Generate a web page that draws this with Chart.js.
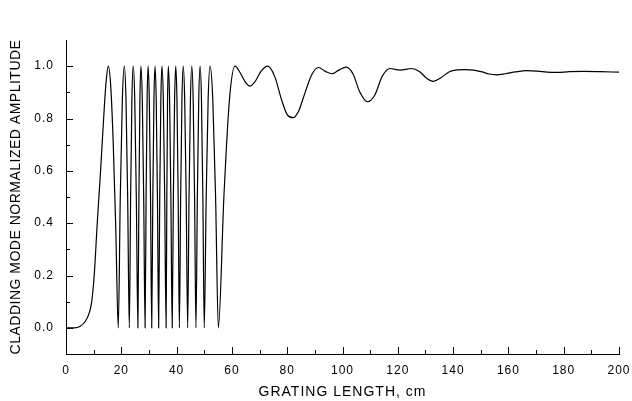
<!DOCTYPE html>
<html>
<head>
<meta charset="utf-8">
<script src="https://cdn.jsdelivr.net/npm/chart.js@4.4.1/dist/chart.umd.min.js"></script>
<style>
  html, body { margin: 0; padding: 0; background: #fff; }
  #wrap { width: 632px; height: 401px; }
</style>
</head>
<body>
<div id="wrap"><canvas id="c" width="632" height="401"></canvas></div>
<script>
// ---- data ----
const gratingLength = [
  0, 3, 5, 7, 8.5, 9.3, 10.2, 11.3, 12.5, 13.5, 14.5, 15.3, 16.2, 17.1, 18.0, 18.9,
  19.63, 20.37, 21.1, 21.7, 22.3, 22.9, 23.37, 23.83, 24.3, 24.87, 25.43, 26.0,
  26.37, 26.73, 27.1, 27.6, 28.1, 28.6, 28.97, 29.33, 29.7, 30.13, 30.57, 31.0,
  31.4, 31.8, 32.2, 32.63, 33.07, 33.5, 33.9, 34.3, 34.7, 35.2, 35.7, 36.2,
  36.47, 36.73, 37.0, 37.47, 37.93, 38.4, 38.83, 39.27, 39.7, 40.13, 40.57, 41.0,
  41.47, 41.93, 42.4, 42.93, 43.47, 44.0, 44.5, 45.0, 45.5, 46.0, 46.5, 47.0,
  47.5, 48.0, 48.5, 49.0, 49.5, 50.0, 50.7, 51.4, 52.1, 53.1, 54.1, 55.1,
  57.1, 59.1, 61.1,
  63.0, 64.8, 66.5, 68.3, 70.5, 73.0, 75.5, 78.0, 80.0, 82.1, 84.2, 86.5, 89.0,
  91.3, 93.8, 96.1, 98.7, 101.3, 103.8, 106.3, 109.0, 111.7, 114.3, 117.2, 120.8,
  125.0, 127.8, 130.3, 132.8, 135.5, 138.5, 141.5, 144.3, 147.5, 150.5, 153.0,
  155.8, 158.8, 162.5, 166.6, 170.5, 174.0, 177.5, 182.0, 187.1, 193.0, 200.0
];
const amplitude = [
  0, 0, 0.005, 0.025, 0.06, 0.10, 0.2, 0.4, 0.6, 0.78, 0.94, 1.0, 0.92, 0.7, 0.38, 0,
  0.5, 0.87, 1, 0.87, 0.5, 0, 0.5, 0.87, 1, 0.87, 0.5, 0,
  0.5, 0.87, 1, 0.87, 0.5, 0, 0.5, 0.87, 1, 0.87, 0.5, 0,
  0.5, 0.87, 1, 0.87, 0.5, 0, 0.5, 0.87, 1, 0.87, 0.5, 0,
  0.5, 0.87, 1, 0.87, 0.5, 0, 0.5, 0.87, 1, 0.87, 0.5, 0,
  0.5, 0.87, 1, 0.87, 0.5, 0, 0.5, 0.87, 1, 0.87, 0.5, 0,
  0.5, 0.87, 1, 0.87, 0.5, 0, 0.5, 0.87, 1, 0.87, 0.5, 0,
  0.5, 0.87, 1,
  0.975, 0.94, 0.924, 0.94, 0.98, 1.0, 0.96, 0.87, 0.815, 0.803, 0.83, 0.90, 0.97,
  0.995, 0.98, 0.971, 0.985, 0.996, 0.97, 0.90, 0.864, 0.89, 0.96, 0.991, 0.985,
  0.991, 0.98, 0.955, 0.942, 0.955, 0.978, 0.986, 0.987, 0.985, 0.978, 0.970,
  0.967, 0.971, 0.978, 0.983, 0.981, 0.977, 0.976, 0.979, 0.980, 0.979, 0.977
];
const xMajorTicks = [0, 20, 40, 60, 80, 100, 120, 140, 160, 180, 200];
const xMinorTicks = [10, 30, 50, 70, 90, 110, 130, 150, 170, 190];
const yMajorTicks = [0, 0.2, 0.4, 0.6, 0.8, 1.0];
const yMinorTicks = [0.1, 0.3, 0.5, 0.7, 0.9];
const xTitle = 'GRATING LENGTH, cm';
const yTitle = 'CLADDING MODE NORMALIZED AMPLITUDE';

const points = gratingLength.map((x, i) => ({ x: x, y: amplitude[i] }));

const FONT = "'Liberation Sans', Arial, sans-serif";

const bgPlugin = {
  id: 'bg',
  beforeDraw(chart) {
    const ctx = chart.ctx;
    ctx.save();
    ctx.fillStyle = '#fff';
    ctx.fillRect(0, 0, chart.width, chart.height);
    ctx.restore();
  }
};

const inwardTicks = {
  id: 'inwardTicks',
  afterDraw(chart) {
    const ctx = chart.ctx;
    const xs = chart.scales.x, ys = chart.scales.y;
    const a = chart.chartArea;
    ctx.save();
    ctx.strokeStyle = '#000';
    ctx.lineWidth = 1;
    ctx.beginPath();
    const xt = (v, len) => {
      const p = Math.round(xs.getPixelForValue(v)) + 0.5;
      ctx.moveTo(p, a.bottom);
      ctx.lineTo(p, a.bottom - len);
    };
    const yt = (v, len) => {
      const p = Math.round(ys.getPixelForValue(v)) + 0.5;
      ctx.moveTo(a.left, p);
      ctx.lineTo(a.left + len, p);
    };
    xMajorTicks.forEach(v => xt(v, 7));
    xMinorTicks.forEach(v => xt(v, 4));
    yMajorTicks.forEach(v => yt(v, 7));
    yMinorTicks.forEach(v => yt(v, 4));
    ctx.stroke();
    ctx.restore();
  }
};

// spaced-out axis text, as in the reference
function spaced(scale, method, spacing) {
  const key = '_spaced_' + method;
  if (scale[key]) return;
  const orig = scale[method];
  scale[method] = function () {
    const ctx = this.ctx;
    const prev = ctx.letterSpacing;
    ctx.letterSpacing = spacing;
    orig.apply(this, arguments);
    ctx.letterSpacing = prev || '0px';
  };
  scale[key] = true;
}

new Chart(document.getElementById('c'), {
  type: 'line',
  data: {
    datasets: [{
      data: points,
      borderColor: '#000',
      borderWidth: 1.2,
      pointRadius: 0,
      fill: false,
      cubicInterpolationMode: 'monotone'
    }]
  },
  options: {
    responsive: false,
    animation: false,
    devicePixelRatio: 1,
    layout: { padding: { left: 0, right: 13, top: 40, bottom: 0 } },
    plugins: { legend: { display: false }, tooltip: { enabled: false } },
    scales: {
      x: {
        type: 'linear',
        min: 0, max: 200,
        afterBuildTicks: s => { s.ticks = xMajorTicks.map(v => ({ value: v })); },
        afterFit: s => {
          s.height = 47; s.paddingLeft = 0; s.paddingRight = 0;
          spaced(s, 'drawTitle', '1px'); spaced(s, 'drawLabels', '1px');
        },
        grid: { display: true, drawOnChartArea: false, drawTicks: false },
        border: { display: true, color: '#000', width: 1 },
        ticks: {
          color: '#000', padding: 9, maxRotation: 0, autoSkip: false,
          font: { family: FONT, size: 12 },
          callback: v => String(v)
        },
        title: {
          display: true, text: xTitle, color: '#000',
          font: { family: FONT, size: 14 },
          padding: { top: 0, bottom: 0 }
        }
      },
      y: {
        type: 'linear',
        min: -0.1, max: 1.1,
        afterBuildTicks: s => { s.ticks = yMajorTicks.map(v => ({ value: v })); },
        afterFit: s => {
          s.width = 66; s.paddingTop = 0; s.paddingBottom = 0;
          spaced(s, 'drawTitle', '0.5px'); spaced(s, 'drawLabels', '1px');
        },
        grid: { display: true, drawOnChartArea: false, drawTicks: false },
        border: { display: true, color: '#000', width: 1 },
        ticks: {
          color: '#000', padding: 12, autoSkip: false,
          font: { family: FONT, size: 12 },
          callback: v => Number(v).toFixed(1)
        },
        title: {
          display: true, text: yTitle, color: '#000',
          font: { family: FONT, size: 14 },
          padding: { top: 8, bottom: 0 }
        }
      }
    }
  },
  plugins: [bgPlugin, inwardTicks]
});
</script>
</body>
</html>
